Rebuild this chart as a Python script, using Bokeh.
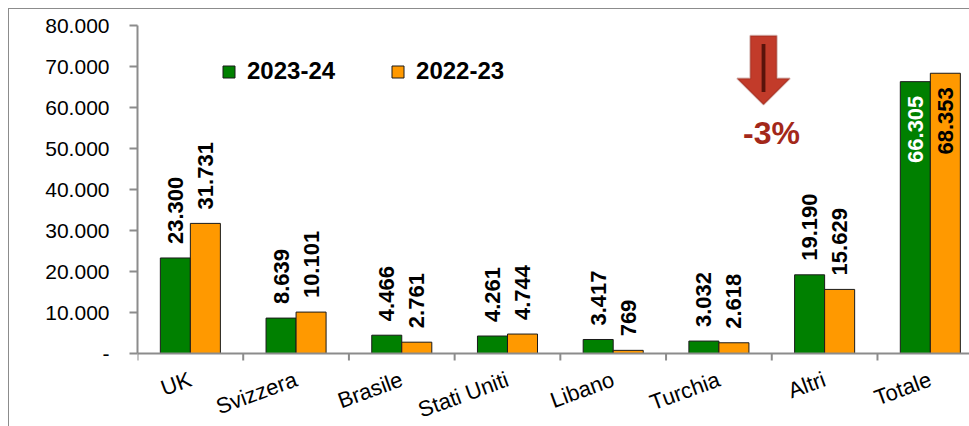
import math
from bokeh.plotting import figure
from bokeh.models import (ColumnDataSource, Range1d, FixedTicker, LabelSet, Label,
                          Legend, LegendItem, PolyAnnotation, Span)
from bokeh.core.properties import value
from bokeh.transform import dodge
from bokeh.embed import file_html
from bokeh.resources import INLINE

# ---------------- data ----------------
categories = ["UK", "Svizzera", "Brasile", "Stati Uniti", "Libano", "Turchia", "Altri", "Totale"]
values_2324 = [23300, 8639, 4466, 4261, 3417, 3032, 19190, 66305]
values_2223 = [31731, 10101, 2761, 4744, 769, 2618, 15629, 68353]
series_names = ["2023-24", "2022-23"]
y_ticks = [0, 10000, 20000, 30000, 40000, 50000, 60000, 70000, 80000]
y_tick_labels = ["-", "10.000", "20.000", "30.000", "40.000", "50.000", "60.000", "70.000", "80.000"]
change_label = "-3%"

GREEN = "#008000"
ORANGE = "#FF9900"
GRAY = "#8C8C8C"
FONT = "Liberation Sans"


def fmt(v):
    return f"{v:,}".replace(",", ".")


n = len(categories)
centers = [i + 0.5 for i in range(n)]
boundaries = list(range(n + 1))

inner = n - 1  # last category is drawn with inside labels
src_out = ColumnDataSource(dict(
    x=centers[:inner],
    g=values_2324[:inner], o=values_2223[:inner],
    gl=[fmt(v) for v in values_2324[:inner]],
    ol=[fmt(v) for v in values_2223[:inner]],
))
src_all = ColumnDataSource(dict(x=centers, g=values_2324, o=values_2223))
src_in = ColumnDataSource(dict(
    x=centers[inner:], g=values_2324[inner:], o=values_2223[inner:],
    gl=[fmt(v) for v in values_2324[inner:]],
    ol=[fmt(v) for v in values_2223[inner:]],
))
src_cat = ColumnDataSource(dict(x=centers, y=[0] * n, name=categories))
src_bnd = ColumnDataSource(dict(x=boundaries, y=[0] * len(boundaries)))

# frame: top at 80.000, value axis 0 at 328 px below; frame continues to the bottom
Y_MAX = 80000
FRAME_TOP, ZERO_PX, FIG_H = 16, 344, 418
y_min = -(FIG_H - ZERO_PX) / (ZERO_PX - FRAME_TOP) * Y_MAX

p = figure(width=961, height=FIG_H, output_backend="svg", toolbar_location=None,
           x_range=Range1d(0, 7.88), y_range=Range1d(y_min, Y_MAX),
           x_axis_location=None,
           min_border_left=128, min_border_right=0, min_border_top=FRAME_TOP, min_border_bottom=0)
p.styles = {"margin-left": "8px", "margin-top": "8px",
            "border-left": "1px solid #8C8C8C", "border-top": "1px solid #8C8C8C"}
p.outline_line_color = None
p.xgrid.visible = False
p.ygrid.visible = False

BW = 0.284
OFF = 0.142
g_r = p.vbar(x=dodge("x", -OFF, range=p.x_range), top="g", width=BW, source=src_all,
             fill_color=GREEN, line_color="#1a1a1a", line_width=1)
o_r = p.vbar(x=dodge("x", OFF, range=p.x_range), top="o", width=BW, source=src_all,
             fill_color=ORANGE, line_color="#1a1a1a", line_width=1)

lbl_common = dict(angle=math.pi / 2, text_font=value(FONT), text_font_size="22px",
                  text_font_style="bold", text_baseline="middle")
p.add_layout(LabelSet(x=dodge("x", -OFF, range=p.x_range), y="g", text="gl", source=src_out,
                      text_align="left", y_offset=14, text_color="black", **lbl_common))
p.add_layout(LabelSet(x=dodge("x", OFF, range=p.x_range), y="o", text="ol", source=src_out,
                      text_align="left", y_offset=14, text_color="black", **lbl_common))
p.add_layout(LabelSet(x=dodge("x", -OFF, range=p.x_range), y="g", text="gl", source=src_in,
                      text_align="right", y_offset=-14, text_color="white", **lbl_common))
p.add_layout(LabelSet(x=dodge("x", OFF, range=p.x_range), y="o", text="ol", source=src_in,
                      text_align="right", y_offset=-14, text_color="black", **lbl_common))

# category axis: line at 0, tick marks at category boundaries, slanted names
p.add_layout(Span(location=0, dimension="width", line_color=GRAY, line_width=2))
p.ray(x="x", y="y", source=src_bnd, length=7, length_units="screen", angle=-math.pi / 2,
      line_color=GRAY, line_width=2)
p.add_layout(LabelSet(x="x", y="y", text="name", source=src_cat, angle=0.35,
                      text_align="right", text_baseline="middle", y_offset=-25,
                      text_font=value(FONT), text_font_size="22px", text_color="black"))

ya = p.yaxis[0]
ya.bounds = (0, Y_MAX)
ya.ticker = FixedTicker(ticks=y_ticks, minor_ticks=[])
ya.major_label_overrides = {t: s for t, s in zip(y_ticks, y_tick_labels)}
ya.major_tick_out = 8
ya.major_tick_in = 0
ya.major_tick_line_color = GRAY
ya.major_tick_line_width = 2
ya.axis_line_color = GRAY
ya.axis_line_width = 2
ya.major_label_standoff = 20
ya.major_label_text_font = FONT
ya.major_label_text_font_size = "21px"
ya.major_label_text_color = "black"

# legend
legend = Legend(items=[LegendItem(label=series_names[0], renderers=[g_r]),
                       LegendItem(label=series_names[1], renderers=[o_r])],
                orientation="horizontal", location=(84, 342),
                glyph_width=15, glyph_height=15, label_standoff=11, spacing=55,
                padding=0, margin=0, border_line_alpha=0, background_fill_alpha=0,
                label_text_font=FONT, label_text_font_size="24px",
                label_text_font_style="bold", label_text_color="black")
p.add_layout(legend)

# decrease arrow (decoration) anchored at the Totale-left gap
ax, ay_top, ay_tip = 5.922, 77500, 60700
hw_shaft, hw_head, y_base = 0.125, 0.25, 67100
p.add_layout(PolyAnnotation(
    xs=[ax - hw_shaft, ax + hw_shaft, ax + hw_shaft, ax + hw_head, ax, ax - hw_head, ax - hw_shaft],
    ys=[ay_top, ay_top, y_base, y_base, ay_tip, y_base, y_base],
    fill_color="#C23B2A", fill_alpha=1, line_color="#7A1A10", line_width=2))
p.add_layout(PolyAnnotation(
    xs=[ax - 0.018, ax + 0.018, ax + 0.018, ax - 0.018],
    ys=[75500, 75500, 63800, 63800],
    fill_color="#5A130B", fill_alpha=1, line_alpha=0))
p.add_layout(Label(x=5.998, y=53900, text=change_label, text_align="center",
                   text_baseline="alphabetic", text_font=FONT, text_font_size="32px",
                   text_font_style="bold", text_color="#A3281A"))

open("out.html", "w").write(file_html(p, INLINE))
